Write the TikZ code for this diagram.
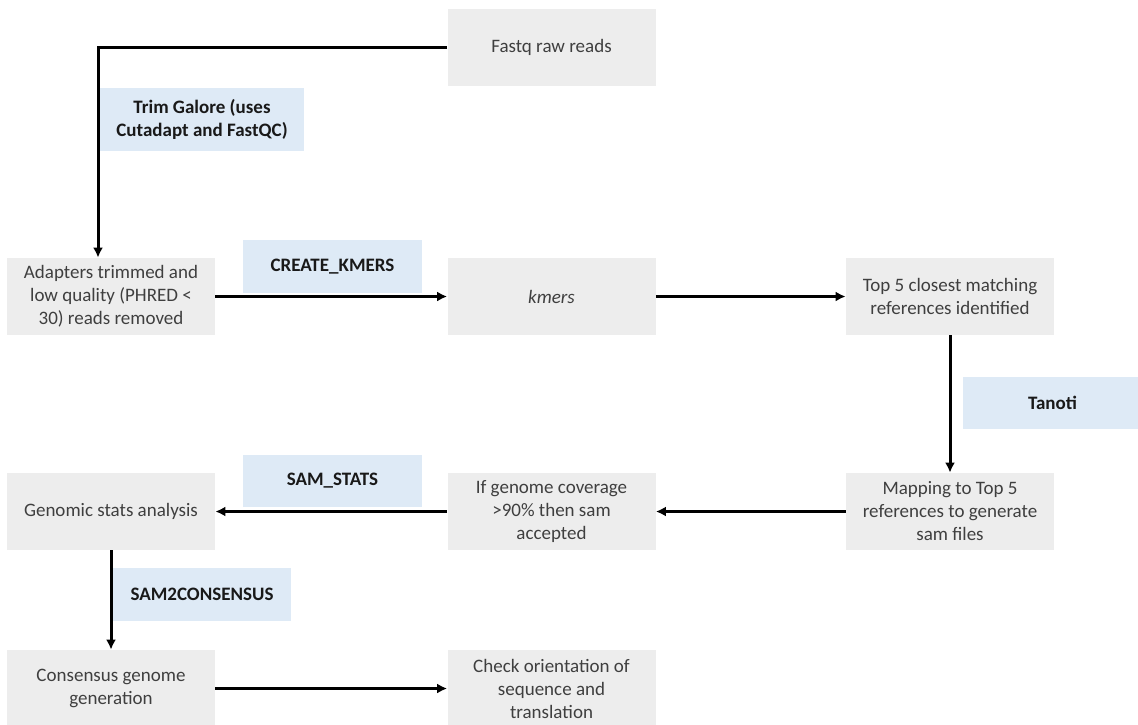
\documentclass[tikz,border=0pt]{standalone}
\usepackage{fontspec}
\setmainfont{Carlito}
\usetikzlibrary{arrows.meta}
\definecolor{stepgray}{HTML}{EDEDED}
\definecolor{toolblue}{HTML}{DEEAF6}
\definecolor{steptext}{HTML}{3F3F3F}
\begin{document}
\begin{tikzpicture}[x=0.5pt,y=0.5pt]
		\tikzstyle{every node}+=[inner sep=0pt, font=\fontsize{9.5}{11.5}\selectfont, align=center]
		\tikzstyle{stepbox}=[fill=stepgray, text=steptext, minimum width=104pt, minimum height=38.5pt]
		\tikzstyle{toolbox}=[fill=toolblue, text=black!90, font=\fontsize{9.5}{11.5}\selectfont\bfseries]
		\tikzstyle{flow}=[line width=1.5pt, -{Latex[length=5pt,width=5pt]}]
		\useasboundingbox (0,0) rectangle (1138,-724);
		\node [toolbox, minimum width=102pt, minimum height=31.5pt] (trim) at (202,-119.5) {Trim Galore (uses\\Cutadapt and FastQC)};
		\node [toolbox, minimum width=89.5pt, minimum height=26.5pt] (kmerslbl) at (332.5,-266.5) {CREATE\_KMERS};
		\node [toolbox, minimum width=89.5pt, minimum height=26pt] (tanoti) at (1052.5,-403) {Tanoti};
		\node [toolbox, minimum width=89.5pt, minimum height=26pt] (samstats) at (332.5,-481) {SAM\_STATS};
		\node [toolbox, minimum width=89pt, minimum height=26.5pt] (samcons) at (202,-594.5) {SAM2CONSENSUS};
		\node [stepbox] (fastq) at (551.5,-47.5) {Fastq raw reads};
		\node [stepbox] (adapt) at (111,-296.5) {Adapters trimmed and\\low quality (PHRED <\\30) reads removed};
		\node [stepbox] (kmers) at (551.5,-296.5) {\itshape kmers};
		\node [stepbox] (top5) at (950,-296.5) {Top 5 closest matching\\references identified};
		\node [stepbox] (mapping) at (950,-511.5) {Mapping to Top 5\\references to generate\\sam files};
		\node [stepbox] (ifcov) at (551.5,-511.5) {If genome coverage\\>90\% then sam\\accepted};
		\node [stepbox] (genomic) at (111,-511.5) {Genomic stats analysis};
		\node [stepbox] (consensus) at (111,-688.5) {Consensus genome\\generation};
		\node [stepbox] (check) at (551.5,-688.5) {Check orientation of\\sequence and\\translation};
		\coordinate (bend) at (98,-47.5);
		\draw [flow] (fastq.west) -- (bend) -- (bend |- adapt.north);
		\draw [flow] (adapt) -- (kmers);
		\draw [flow] (kmers) -- (top5);
		\draw [flow] (top5) -- (mapping);
		\draw [flow] (mapping) -- (ifcov);
		\draw [flow] (ifcov) -- (genomic);
		\draw [flow] (genomic) -- (consensus);
		\draw [flow] (consensus) -- (check);
	\end{tikzpicture}
\end{document}
